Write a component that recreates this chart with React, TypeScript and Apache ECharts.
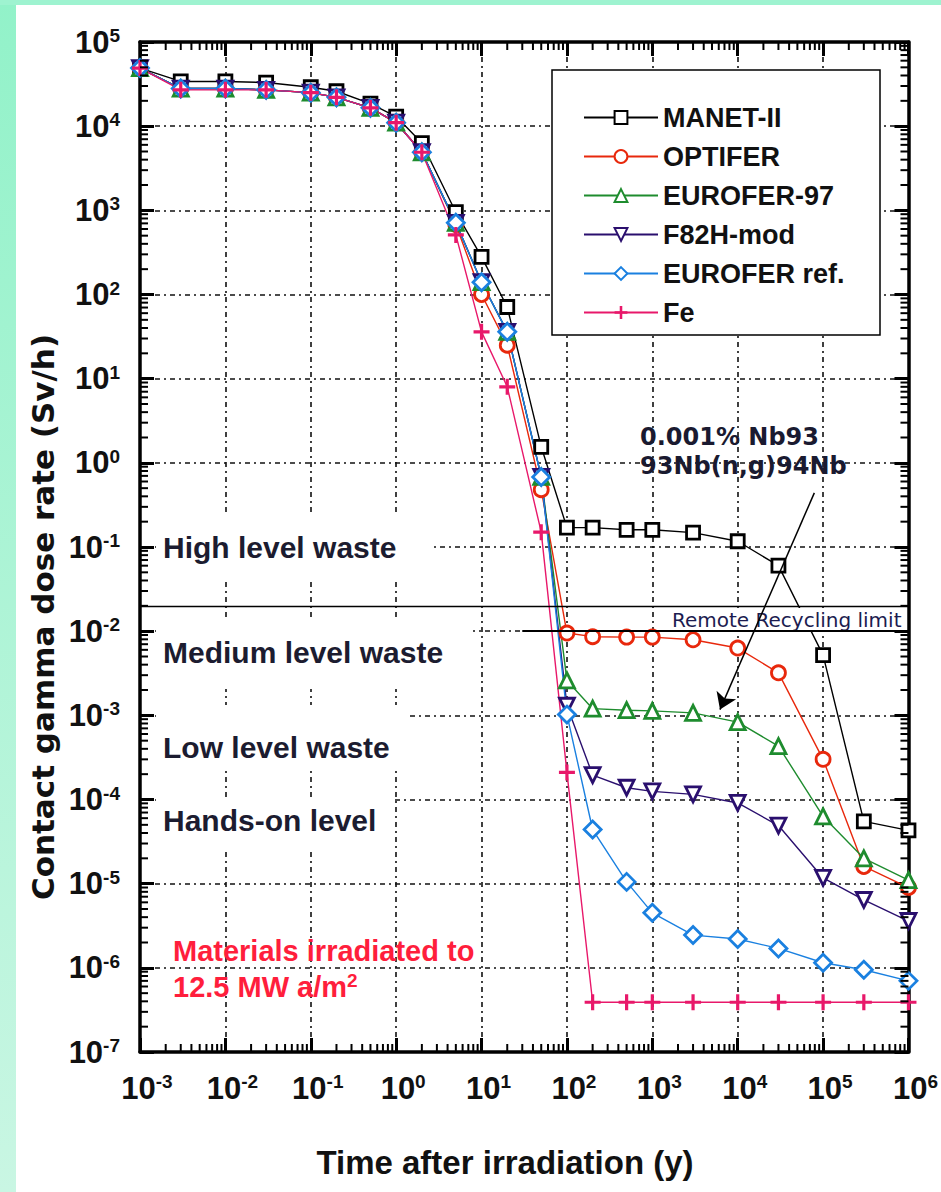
import React, { useEffect, useRef } from "react";
import * as echarts from "echarts";

// ---------------- data ----------------
const TIMES = [1e-3, 3e-3, 1e-2, 3e-2, 0.1, 0.2, 0.5, 1, 2, 5, 10, 20, 50, 100, 200, 500, 1e3, 3e3, 1e4, 3e4, 1e5, 3e5, 1e6];

const MANET_II = [4.9e4, 3.4e4, 3.4e4, 3.3e4, 2.9e4, 2.6e4, 1.85e4, 1.3e4, 6.3e3, 950, 280, 71, 1.55, 0.17, 0.17, 0.16, 0.16, 0.148, 0.117, 0.06, 5.2e-3, 5.5e-5, 4.3e-5];
const OPTIFER = [4.9e4, 2.8e4, 2.8e4, 2.7e4, 2.5e4, 2.2e4, 1.65e4, 1.1e4, 4.9e3, 680, 100, 25, 0.48, 9.5e-3, 8.6e-3, 8.5e-3, 8.5e-3, 7.9e-3, 6.3e-3, 3.2e-3, 3.0e-4, 1.6e-5, 9e-6];
const EUROFER_97 = [4.9e4, 2.8e4, 2.8e4, 2.7e4, 2.5e4, 2.2e4, 1.65e4, 1.1e4, 4.9e3, 710, 140, 36, 0.68, 2.6e-3, 1.2e-3, 1.15e-3, 1.13e-3, 1.07e-3, 8.3e-4, 4.3e-4, 6.3e-5, 2.0e-5, 1.1e-5];
const F82H_MOD = [4.9e4, 2.8e4, 2.8e4, 2.7e4, 2.5e4, 2.2e4, 1.65e4, 1.1e4, 4.9e3, 710, 140, 36, 0.68, 1.3e-3, 1.95e-4, 1.38e-4, 1.25e-4, 1.15e-4, 9.1e-5, 4.9e-5, 1.17e-5, 6.4e-6, 3.6e-6];
const EUROFER_REF = [4.9e4, 2.8e4, 2.8e4, 2.7e4, 2.5e4, 2.2e4, 1.65e4, 1.1e4, 4.9e3, 710, 140, 36, 0.68, 1.02e-3, 4.4e-5, 1.05e-5, 4.5e-6, 2.45e-6, 2.2e-6, 1.7e-6, 1.15e-6, 9.5e-7, 7.0e-7];
const FE = [4.9e4, 2.7e4, 2.7e4, 2.7e4, 2.5e4, 2.2e4, 1.65e4, 1.1e4, 4.9e3, 510, 36, 8, 0.15, 2.1e-4, 3.9e-7, 3.9e-7, 3.9e-7, 3.9e-7, 3.9e-7, 3.9e-7, 3.9e-7, 3.9e-7, 3.9e-7];

const SERIES_NAMES = ["MANET-II", "OPTIFER", "EUROFER-97", "F82H-mod", "EUROFER ref.", "Fe"];

const X_MIN = 1e-3;
const X_MAX = 1e6;
const Y_MIN = 1e-7;
const Y_MAX = 1e5;

// waste class boundaries (Sv/h)
const WASTE_LIMITS = [2e-2, 2e-3, 2.5e-5];
const REMOTE_RECYCLING_LIMIT = 1e-2;
const REMOTE_LINE_FROM = 30;
// arrow of the Nb annotation: [time, dose] start and end
const ARROW_FROM = [7.9e4, 0.44];
const ARROW_TO = [6.2e3, 1.17e-3];

// minor ticks (2..9 x 10^k) for the log axes
const minorTicks = (lo: number, hi: number) => {
  const out: number[] = [];
  for (let k = lo; k < hi; k++) for (let m = 2; m <= 9; m++) out.push(m * Math.pow(10, k));
  return out;
};
const X_MINOR = minorTicks(-3, 6);
const Y_MINOR = minorTicks(-7, 5);

const PLUS = "path://M4,0H6V4H10V6H6V10H4V6H0V4H4Z";

const BOLD = "Liberation Sans";

export default function App() {
  const ref = useRef<HTMLDivElement>(null);
  useEffect(() => {
    if (!ref.current) return;
    const chart = echarts.init(ref.current, undefined, { renderer: "svg" });

    const mk = (name: string, vals: number[], color: string, symbol: string, size: number, extra: any = {}) => ({
      name,
      type: "line",
      data: TIMES.map((t, i) => [t, vals[i]]),
      symbol,
      symbolSize: size,
      lineStyle: { color, width: 1.4 },
      itemStyle: { color: "#fff", borderColor: color, borderWidth: 2.8 },
      emphasis: { disabled: true },
      z: 2,
      ...extra,
    });

    const gridLine = { show: true, lineStyle: { color: "#111", type: [5, 4, 2, 4], width: 1.6 } };
    const richLabel = {
      b: { fontSize: 31, fontWeight: "bold", fontFamily: BOLD, color: "#111", lineHeight: 32 },
      s: { fontSize: 19, fontWeight: "bold", fontFamily: BOLD, color: "#111", lineHeight: 20, verticalAlign: "top" },
    };
    const expFmt = (v: number) => `{b|10}{s|${Math.round(Math.log10(v))}}`;
    const axisLine = { show: true, onZero: false, lineStyle: { color: "#000", width: 3.5 } };
    const axisTick = { show: true, inside: true, length: 14, lineStyle: { color: "#000", width: 3 } };

    const tickLine = (x1: number, y1: number, x2: number, y2: number) => ({
      type: "line",
      shape: { x1, y1, x2, y2 },
      style: { stroke: "#000", lineWidth: 2 },
    });

    const xBase = { type: "log", logBase: 10, min: X_MIN, max: X_MAX, interval: 1, splitNumber: 9 };
    const yBase = { type: "log", logBase: 10, min: Y_MIN, max: Y_MAX, interval: 1, splitNumber: 12 };

    const option: any = {
      animation: false,
      backgroundColor: "#fff",
      grid: { left: 140, top: 42, width: 772, height: 1010, containLabel: false },
      xAxis: [
        {
          ...xBase, position: "bottom",
          axisLine, axisTick, splitLine: gridLine, minorTick: { show: false },
          axisLabel: { interval: 0, margin: 20, formatter: expFmt, rich: richLabel, padding: [0, 0, 0, 14] },
        },
        {
          ...xBase, position: "top",
          axisLine, axisTick, splitLine: { show: false }, axisLabel: { show: false },
        },
      ],
      yAxis: [
        {
          ...yBase, position: "left",
          axisLine, axisTick, splitLine: gridLine,
          axisLabel: { interval: 0, margin: 20, formatter: expFmt, rich: richLabel },
        },
        {
          ...yBase, position: "right",
          axisLine, axisTick, splitLine: { show: false }, axisLabel: { show: false },
        },
      ],
      legend: {
        data: SERIES_NAMES,
        orient: "vertical",
        left: 583,
        top: 104,
        itemWidth: 74,
        itemHeight: 16,
        itemGap: 12,
        padding: 0,
        selectedMode: false,
        z: 6,
        textStyle: { fontFamily: BOLD, fontWeight: "bold", fontSize: 27, color: "#111", lineHeight: 20 },
      },
      series: [
        mk("MANET-II", MANET_II, "#000000", "rect", 13),
        mk("OPTIFER", OPTIFER, "#e8280c", "circle", 14),
        mk("EUROFER-97", EUROFER_97, "#1e8c2e", "triangle", 15),
        mk("F82H-mod", F82H_MOD, "#2a0f6e", "triangle", 15, { symbolRotate: 180 }),
        mk("EUROFER ref.", EUROFER_REF, "#1a80e0", "diamond", 17),
        mk("Fe", FE, "#e8186a", PLUS, 16, { itemStyle: { color: "#e8186a", borderWidth: 0 } }),
        {
          name: "limits",
          type: "line",
          data: [],
          z: 4,
          silent: true,
          markLine: {
            silent: true,
            symbol: "none",
            label: { show: false },
            lineStyle: { color: "#000", width: 1.3, type: "solid" },
            data: [
              ...WASTE_LIMITS.map((v) => ({ yAxis: v })),
              [
                { coord: [REMOTE_LINE_FROM, REMOTE_RECYCLING_LIMIT], lineStyle: { width: 2 } },
                { coord: [X_MAX, REMOTE_RECYCLING_LIMIT] },
              ],
            ],
          },
        },
        {
          name: "arrow",
          type: "line",
          data: [],
          z: 5,
          silent: true,
          markLine: {
            silent: true,
            symbol: ["none", "arrow"],
            symbolSize: 16,
            label: { show: false },
            lineStyle: { color: "#000", width: 1.5, type: "solid" },
            data: [[{ coord: ARROW_FROM }, { coord: ARROW_TO }]],
          },
        },
        {
          name: "yMinor",
          type: "custom",
          silent: true,
          z: 3,
          data: Y_MINOR.map((v) => [X_MIN, v]),
          renderItem: (_p: any, api: any) => {
            const l = api.coord([X_MIN, api.value(1)]);
            const r = api.coord([X_MAX, api.value(1)]);
            return {
              type: "group",
              children: [tickLine(l[0], l[1], l[0] + 8, l[1]), tickLine(r[0] - 8, r[1], r[0], r[1])],
            };
          },
        },
        {
          name: "xMinor",
          type: "custom",
          silent: true,
          z: 3,
          data: X_MINOR.map((v) => [v, Y_MIN]),
          renderItem: (_p: any, api: any) => {
            const b = api.coord([api.value(0), Y_MIN]);
            const t = api.coord([api.value(0), Y_MAX]);
            return {
              type: "group",
              children: [tickLine(b[0], b[1], b[0], b[1] - 8), tickLine(t[0], t[1], t[0], t[1] + 8)],
            };
          },
        },
      ],
      graphic: [
        // mint frame of the slide
        {
          type: "rect", z: 0, silent: true,
          shape: { x: 0, y: 0, width: 16, height: 1192 },
          style: { fill: new echarts.graphic.LinearGradient(0, 0, 0, 1, [{ offset: 0, color: "#92f2c9" }, { offset: 1, color: "#c9f6e3" }]) },
        },
        { type: "rect", z: 0, silent: true, shape: { x: 0, y: 0, width: 941, height: 5 }, style: { fill: "#9ef3d0" } },
        // legend box
        { type: "rect", z: 5, silent: true, shape: { x: 552, y: 70, width: 328, height: 265 }, style: { fill: "#fff", stroke: "#000", lineWidth: 1.5 } },
        // waste class labels with white boxes
        { type: "rect", z: 1, silent: true, shape: { x: 156, y: 514, width: 274, height: 66 }, style: { fill: "#fff" } },
        { type: "rect", z: 1, silent: true, shape: { x: 156, y: 617, width: 317, height: 72 }, style: { fill: "#fff" } },
        { type: "rect", z: 1, silent: true, shape: { x: 156, y: 705, width: 254, height: 63 }, style: { fill: "#fff" } },
        { type: "rect", z: 1, silent: true, shape: { x: 156, y: 797, width: 239, height: 53 }, style: { fill: "#fff" } },
        ...[
          ["High level waste", 547],
          ["Medium level waste", 652],
          ["Low level waste", 747],
          ["Hands-on level", 820],
        ].map(([t, y]) => ({
          type: "text", z: 1, silent: true, x: 163, y: y as number,
          style: { text: t as string, fill: "#1c1c30", font: `bold 30px "${BOLD}"`, textAlign: "left", textVerticalAlign: "middle" },
        })),
        {
          type: "text", z: 2.5, silent: true, x: 669, y: 620,
          style: {
            text: "Remote Recycling limit", fill: "#1c1c50", font: '20px "DejaVu Sans"',
            textAlign: "left", textVerticalAlign: "middle", backgroundColor: "#fff", padding: [2, 3, 2, 3],
          },
        },
        {
          type: "text", z: 4, silent: true, x: 640, y: 437,
          style: { text: "0.001% Nb93", fill: "#1a1a30", font: 'bold 24px "DejaVu Sans"', textAlign: "left", textVerticalAlign: "middle" },
        },
        {
          type: "text", z: 4, silent: true, x: 640, y: 466,
          style: { text: "93Nb(n,g)94Nb", fill: "#1a1a30", font: 'bold 24px "DejaVu Sans"', textAlign: "left", textVerticalAlign: "middle" },
        },
        {
          type: "text", z: 4, silent: true, x: 173, y: 951,
          style: { text: "Materials irradiated to", fill: "#ff1e3c", font: `bold 29px "${BOLD}"`, textAlign: "left", textVerticalAlign: "middle" },
        },
        {
          type: "text", z: 4, silent: true, x: 173, y: 987,
          style: {
            text: "{t|12.5 MW a/m}{s|2}", textAlign: "left", textVerticalAlign: "middle",
            rich: {
              t: { fontSize: 29, fontWeight: "bold", fontFamily: BOLD, fill: "#ff1e3c", lineHeight: 32 },
              s: { fontSize: 19, fontWeight: "bold", fontFamily: BOLD, fill: "#ff1e3c", lineHeight: 20, verticalAlign: "top" },
            },
          },
        },
        // axis titles
        {
          type: "text", z: 4, silent: true, x: 43, y: 617, rotation: Math.PI / 2,
          style: { text: "Contact gamma dose rate (Sv/h)", fill: "#111", font: 'bold 31px "DejaVu Sans"', textAlign: "center", textVerticalAlign: "middle" },
        },
        {
          type: "text", z: 4, silent: true, x: 505, y: 1162,
          style: { text: "Time after irradiation (y)", fill: "#111", font: `bold 33px "${BOLD}"`, textAlign: "center", textVerticalAlign: "middle" },
        },
      ],
    };
    chart.setOption(option);
    return () => chart.dispose();
  }, []);
  return <div ref={ref} style={{ position: "absolute", left: 0, top: 0, width: 941, height: 1192 }} />;
}
